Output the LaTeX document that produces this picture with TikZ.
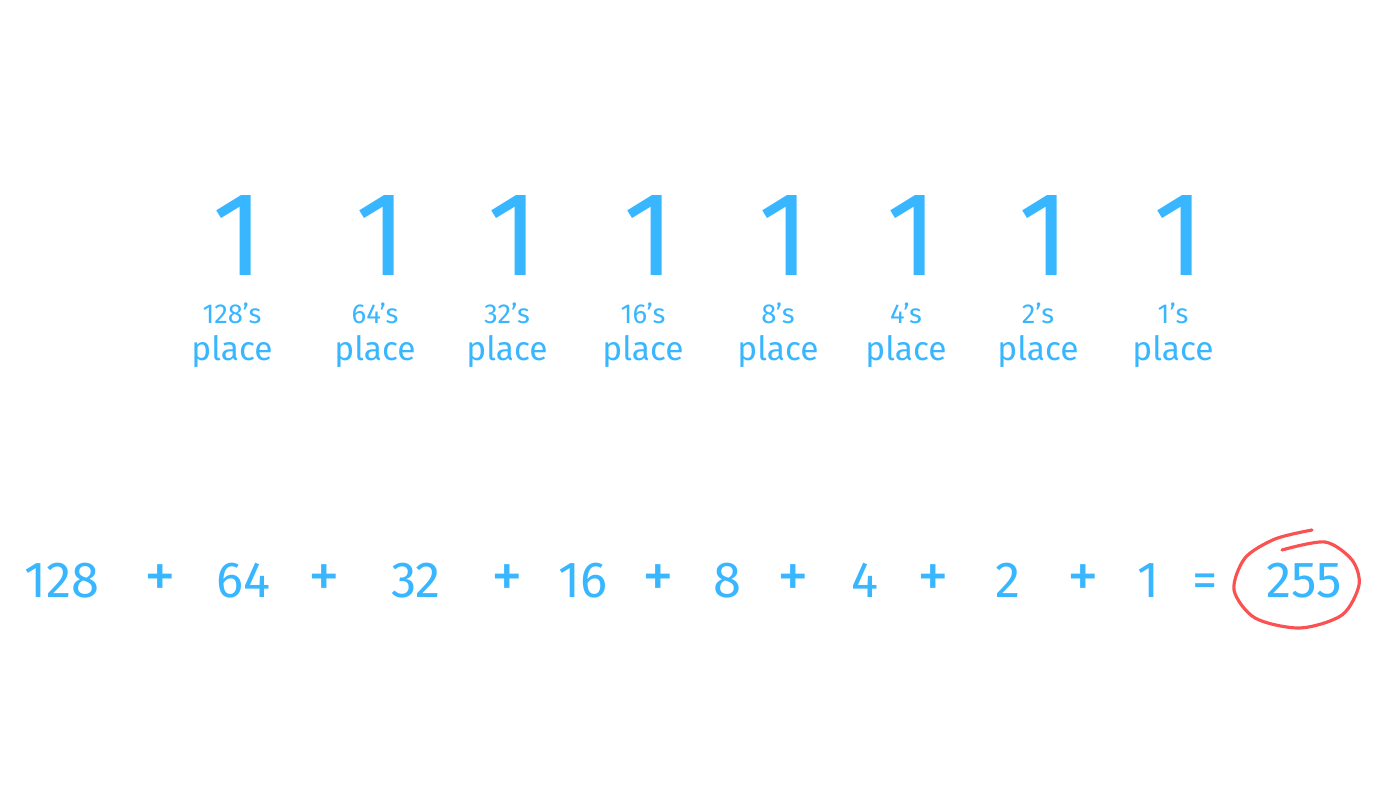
\documentclass[tikz,border=0pt]{standalone}
\usepackage{fontspec}
\setmainfont{Fira Sans}
\definecolor{sketchblue}{RGB}{56, 182, 255}
\definecolor{sketchred}{RGB}{250, 82, 82}
\usepackage{tikz}

\begin{document}
\begin{tikzpicture}[x=0.01cm, y=-0.01cm,
    bigdigit/.style={text=sketchblue, font=\fontsize{34}{38}\selectfont, anchor=base, inner sep=0pt},
    placeval/.style={text=sketchblue, font=\fontsize{7.8}{9}\selectfont, anchor=base, inner sep=0pt},
    placeword/.style={text=sketchblue, font=\fontsize{9.5}{11}\selectfont, anchor=base, inner sep=0pt},
    sumterm/.style={text=sketchblue, font=\fontsize{14.4}{17}\selectfont, anchor=base, inner sep=0pt},
    sumsign/.style={text=sketchblue, font=\fontsize{18}{21}\selectfont, inner sep=0pt}]
    \useasboundingbox (0,0) rectangle (1400,788);

    % Bits and their place values
    \foreach \x/\v [count=\i] in {232/128, 375/64, 507/32, 643/16, 778/8, 906/4, 1038/2, 1173/1} {
        \node[bigdigit] (bit\i) at (\x+6,275) {1};
        \node[placeval] (val\i) at (\x,323) {\v's};
        \node[placeword] (word\i) at (\x,360) {place};
    }

    % Sum
    \foreach \x/\t [count=\i] in {62/128, 243/64, 416/32, 583/16, 727/8, 865/4, 1008/2, 1148/1, 1304/255} {
        \node[sumterm] (term\i) at (\x,597) {\t};
    }
    \foreach \x/\t [count=\i] in {160/+, 324/+, 507/+, 658/+, 793/+, 933/+, 1083/+} {
        \node[sumsign] (op\i) at (\x,581) {\t};
    }
    \node[sumterm] (eq) at (1205,597) {=};

    % Circle round the result
    \draw[sketchred, line width=0.9pt, line cap=round] plot[smooth] coordinates {
        (1282,550) (1325,542) (1352,560) (1359,585) (1342,615) (1300,628)
        (1255,618) (1234,590) (1245,558) (1275,539) (1312,530)};
\end{tikzpicture}
\end{document}
